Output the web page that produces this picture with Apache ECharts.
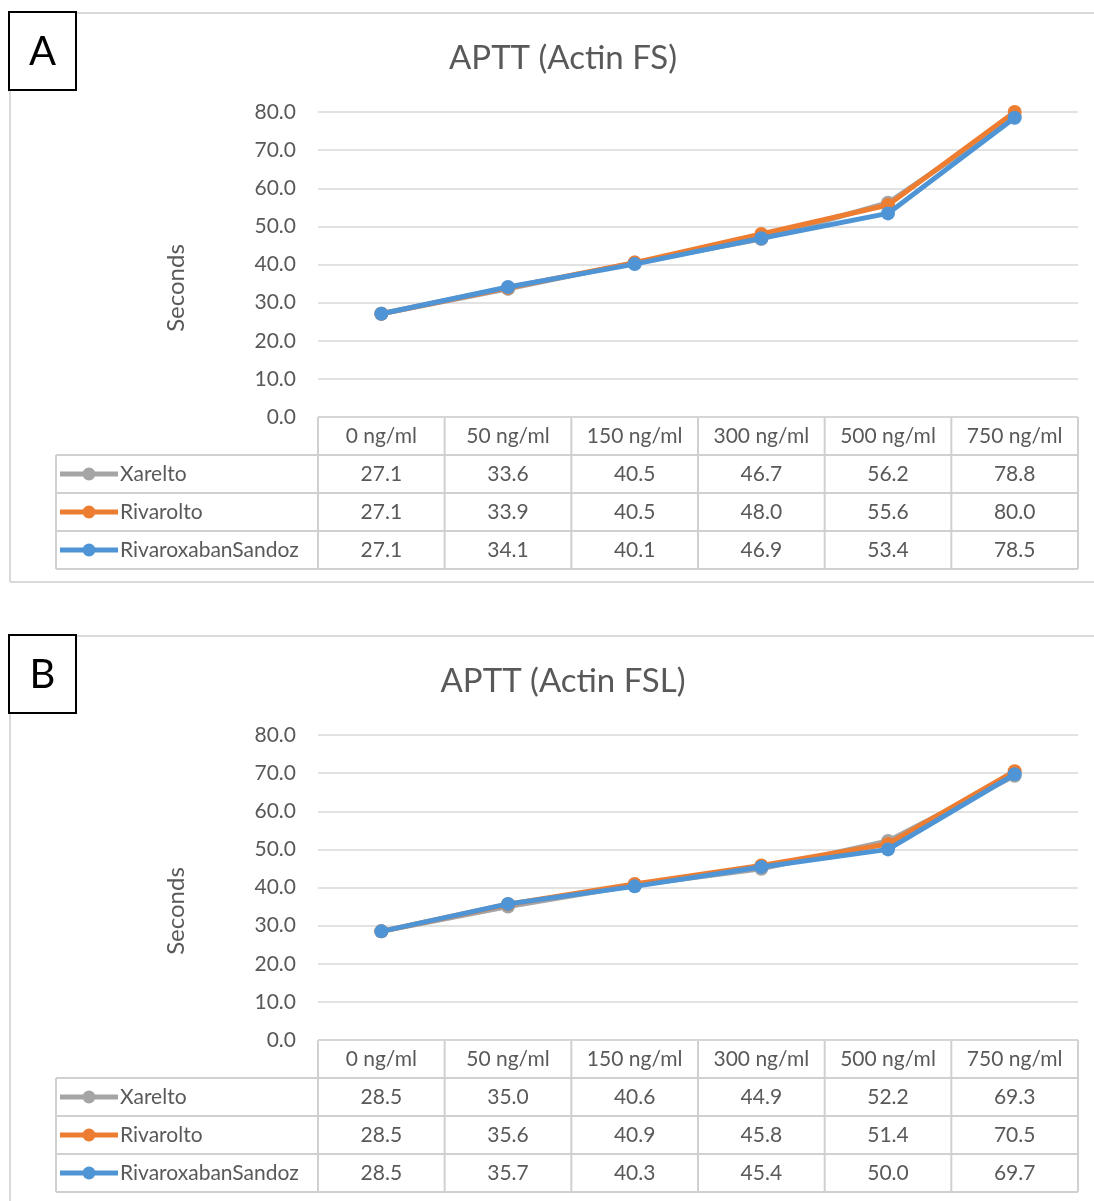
<!DOCTYPE html>
<html>
<head>
<meta charset="utf-8">
<script src="https://cdn.jsdelivr.net/npm/echarts@6/dist/echarts.min.js"></script>
<style>
  html, body { margin: 0; padding: 0; background: #fff; }
  #chart { width: 1094px; height: 1201px; }
</style>
</head>
<body>
<div id="chart"></div>
<script>
// categories
const doses = ['0 ng/ml', '50 ng/ml', '150 ng/ml', '300 ng/ml', '500 ng/ml', '750 ng/ml']
const drugNames = ['Xarelto', 'Rivarolto', 'RivaroxabanSandoz']
const yTicks = [0, 10, 20, 30, 40, 50, 60, 70, 80]

// panel A: APTT (Actin FS)
const fsXarelto = [27.1, 33.6, 40.5, 46.7, 56.2, 78.8]
const fsRivarolto = [27.1, 33.9, 40.5, 48.0, 55.6, 80.0]
const fsSandoz = [27.1, 34.1, 40.1, 46.9, 53.4, 78.5]

// panel B: APTT (Actin FSL)
const fslXarelto = [28.5, 35.0, 40.6, 44.9, 52.2, 69.3]
const fslRivarolto = [28.5, 35.6, 40.9, 45.8, 51.4, 70.5]
const fslSandoz = [28.5, 35.7, 40.3, 45.4, 50.0, 69.7]

const colors = ['#A5A5A5', '#ED7D31', '#4F95D5']
const font = 'Lato, "Open Sans", sans-serif'
const txt = '#595959'
const gridColor = '#D9D9D9'

const panels = [
  { letter: 'A', title: 'APTT (Actin FS)', dy: 0, data: [fsXarelto, fsRivarolto, fsSandoz] },
  { letter: 'B', title: 'APTT (Actin FSL)', dy: 623, data: [fslXarelto, fslRivarolto, fslSandoz] }
]

// layout of the plot area
const plotLeft = 318
const plotRight = 1078
const plotTop = 112
const plotBottom = 417
const rowH = 38
const colW = (plotRight - plotLeft) / doses.length

const chart = echarts.init(document.getElementById('chart'), null, { renderer: 'canvas' })

const grids = []
const xAxes = []
const yAxes = []
const series = []
const titles = []
const graphics = []

const line = (x1, y1, x2, y2, color, w) => ({
  type: 'line',
  shape: { x1, y1, x2, y2 },
  style: { stroke: color, lineWidth: w },
  silent: true
})
const text = (x, y, s, opts) => ({
  type: 'text',
  x, y,
  style: Object.assign({ text: s, fill: txt, font: '21px ' + font, align: 'center', verticalAlign: 'middle' }, opts || {}),
  silent: true
})

panels.forEach((p, pi) => {
  const dy = p.dy
  grids.push({ left: plotLeft, top: plotTop + dy, width: plotRight - plotLeft, height: plotBottom - plotTop })
  xAxes.push({
    type: 'category', gridIndex: pi, data: doses, boundaryGap: true,
    axisLine: { show: false }, axisTick: { show: false }, axisLabel: { show: false }
  })
  yAxes.push({
    type: 'value', gridIndex: pi, min: yTicks[0], max: yTicks[yTicks.length - 1], interval: 10,
    axisLine: { show: false }, axisTick: { show: false },
    axisLabel: { color: txt, fontSize: 21, fontFamily: font, margin: 22, formatter: v => v.toFixed(1) },
    splitLine: { lineStyle: { color: gridColor, width: 1.5 } }
  })
  p.data.forEach((vals, si) => {
    series.push({
      name: drugNames[si], type: 'line', xAxisIndex: pi, yAxisIndex: pi,
      data: vals, symbol: 'circle', symbolSize: 14,
      lineStyle: { color: colors[si], width: 5 },
      itemStyle: { color: colors[si] },
      z: 2 + si, animation: false
    })
  })
  titles.push({
    text: p.title, left: 558, textAlign: 'center', top: 37 + dy,
    textStyle: { color: txt, fontSize: 33, fontWeight: 'normal', fontFamily: font }
  })

  // panel frame
  graphics.push(line(77, 13 + dy, 1094, 13 + dy, gridColor, 2))
  graphics.push(line(10, 90 + dy, 10, 582 + dy, gridColor, 2))
  if (dy + 582 < 1201) graphics.push(line(10, 582 + dy, 1094, 582 + dy, gridColor, 2))
  // letter box
  graphics.push({
    type: 'rect', shape: { x: 9, y: 12 + dy, width: 67, height: 78 },
    style: { fill: '#fff', stroke: '#000', lineWidth: 2 }, silent: true
  })
  graphics.push(text(42.5, 52 + dy, p.letter, { fill: '#000', font: '40px ' + font }))

  // y axis name
  graphics.push({
    type: 'text', x: 176, y: 288 + dy, rotation: Math.PI / 2,
    style: { text: 'Seconds', fill: txt, font: '24px ' + font, align: 'center', verticalAlign: 'middle' },
    silent: true
  })

  // data table
  const tTop = plotBottom + dy
  const tBottom = tTop + rowH * 4
  const legLeft = 56
  const tc = '#D0D0D0'
  graphics.push(line(plotLeft, tTop, plotRight, tTop, tc, 2))
  for (let r = 1; r <= 4; r++) {
    graphics.push(line(legLeft, tTop + rowH * r, plotRight, tTop + rowH * r, tc, 2))
  }
  graphics.push(line(legLeft, tTop + rowH, legLeft, tBottom, tc, 2))
  for (let c = 0; c <= doses.length; c++) {
    const x = plotLeft + colW * c
    graphics.push(line(x, tTop, x, tBottom, tc, 2))
  }
  // header
  doses.forEach((d, c) => {
    graphics.push(text(plotLeft + colW * (c + 0.5), tTop + rowH / 2, d))
  })
  // rows: legend key + values
  p.data.forEach((vals, si) => {
    const cy = tTop + rowH * (si + 1.5)
    graphics.push(line(60, cy, 118, cy, colors[si], 5))
    graphics.push({
      type: 'circle', shape: { cx: 89, cy, r: 6.5 },
      style: { fill: colors[si] }, silent: true
    })
    graphics.push(text(120, cy, drugNames[si], { align: 'left' }))
    vals.forEach((v, c) => {
      graphics.push(text(plotLeft + colW * (c + 0.5), cy, v.toFixed(1)))
    })
  })
})

chart.setOption({
  backgroundColor: '#fff',
  animation: false,
  title: titles,
  grid: grids,
  xAxis: xAxes,
  yAxis: yAxes,
  series: series,
  graphic: graphics
})
</script>
</body>
</html>
